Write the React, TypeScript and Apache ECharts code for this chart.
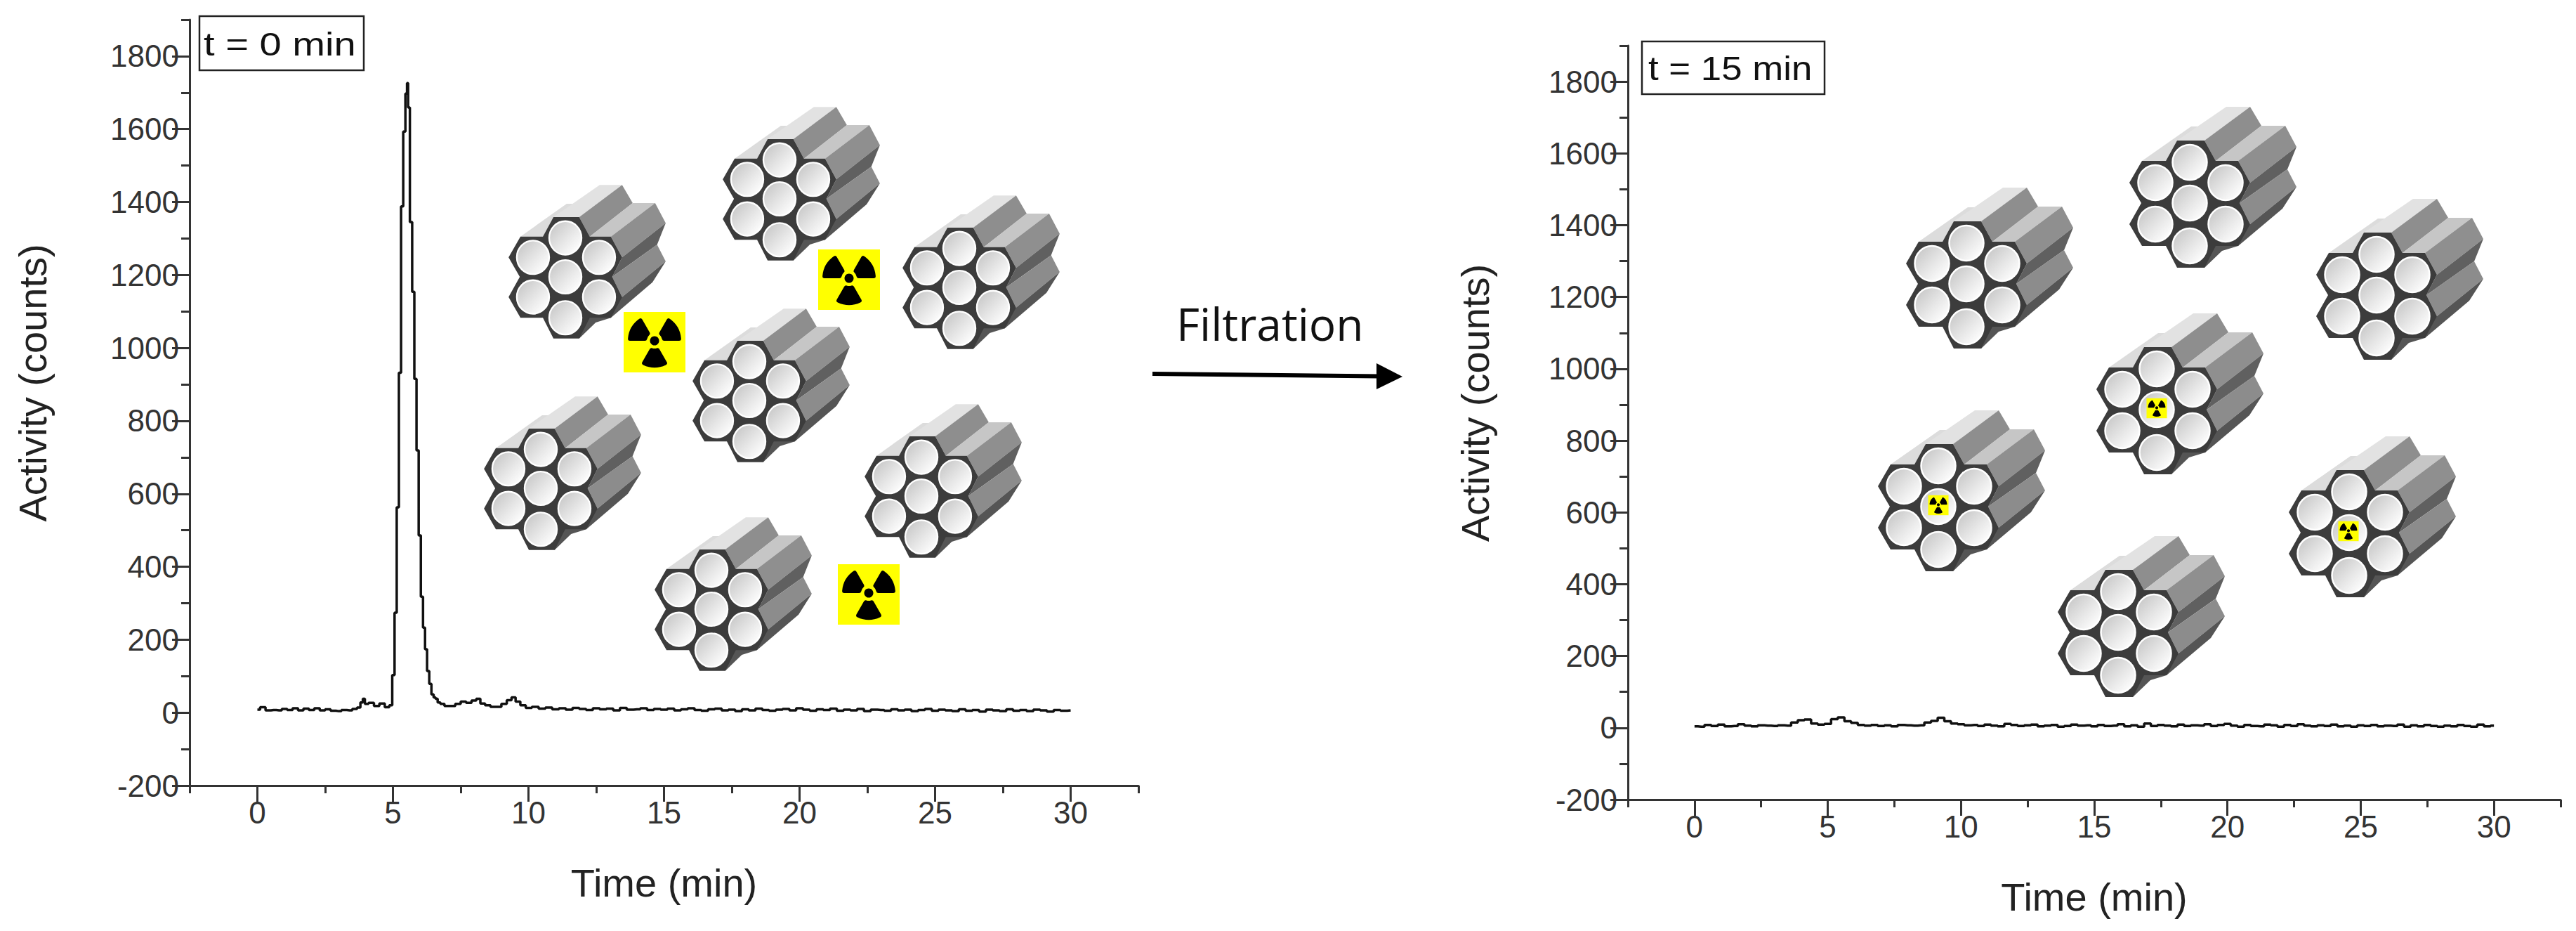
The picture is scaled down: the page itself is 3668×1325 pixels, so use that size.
import React, { useEffect, useRef } from 'react';
import * as echarts from 'echarts';

const xMajorTicks = [0, 5, 10, 15, 20, 25, 30];
const yMajorTicks = [-200, 0, 200, 400, 600, 800, 1000, 1200, 1400, 1600, 1800];

// t = 0 min: radio-HPLC trace before filtration
const timesLeft = [
  0, 0.2, 0.4, 0.6, 0.8, 1, 1.2, 1.4, 1.6, 1.8, 2, 2.2, 2.4, 2.6, 2.8, 3, 3.2, 3.4, 3.6, 3.75, 3.85, 3.93, 4, 4.2, 4.4,
  4.6, 4.8, 4.93,
  5.02, 5.1, 5.18, 5.26, 5.34, 5.42, 5.5, 5.54, 5.58, 5.67, 5.75, 5.83, 5.91, 5.99, 6.07, 6.15, 6.22, 6.3, 6.38, 6.46, 6.54,
  6.6, 6.7, 6.8, 7, 7.2, 7.4, 7.6, 7.8, 8, 8.15, 8.3, 8.5, 8.7, 8.9, 9.1, 9.3, 9.45, 9.6, 9.8,
  10, 10.25, 10.5, 10.75, 11, 11.25, 11.5, 11.75, 12, 12.25, 12.5, 12.75, 13, 13.25, 13.5, 13.75,
  14, 14.25, 14.5, 14.75, 15, 15.25, 15.5, 15.75, 16, 16.25, 16.5, 16.75, 17, 17.25, 17.5, 17.75,
  18, 18.25, 18.5, 18.75, 19, 19.25, 19.5, 19.75, 20, 20.25, 20.5, 20.75, 21, 21.25, 21.5, 21.75,
  22, 22.25, 22.5, 22.75, 23, 23.25, 23.5, 23.75, 24, 24.25, 24.5, 24.75, 25, 25.25, 25.5, 25.75,
  26, 26.25, 26.5, 26.75, 27, 27.25, 27.5, 27.75, 28, 28.25, 28.5, 28.75, 29, 29.25, 29.5, 29.75, 30,
];
const countsLeft = [
  8, 15, 6, 7, 6, 10, 7, 12, 6, 11, 7, 12, 6, 9, 5, 4, 7, 6, 10, 14, 28, 38, 24, 27, 18,
  25, 15, 20,
  103, 274, 563, 932, 1388, 1593, 1697, 1726, 1659, 1345, 1154, 915, 719, 486, 318, 233, 174, 114, 79, 50, 42,
  38, 28, 24, 18, 18, 24, 30, 27, 33, 38, 25, 20, 16, 16, 24, 34, 42, 30, 20,
  13, 16, 11, 14, 9, 12, 8, 13, 10, 7, 12, 9, 11, 6, 13, 8,
  9, 12, 7, 10, 8, 11, 6, 9, 12, 7, 5, 9, 11, 6, 8, 4,
  9, 6, 11, 7, 5, 8, 10, 6, 12, 8, 5, 9, 7, 11, 5, 8,
  6, 10, 4, 8, 7, 5, 9, 6, 8, 4, 7, 10, 5, 8, 6, 4,
  9, 5, 7, 3, 8, 6, 4, 9, 5, 7, 4, 8, 6, 3, 7, 5, 6,
];

// t = 15 min: same column after filtration
const timesRight = [
  0, 0.25, 0.5, 0.75, 1, 1.25, 1.5, 1.75, 2, 2.25, 2.5, 2.75, 3, 3.25, 3.5, 3.75,
  4, 4.25, 4.5, 4.75, 5, 5.25, 5.5, 5.75, 6, 6.25, 6.5, 6.75, 7, 7.25, 7.5, 7.75,
  8, 8.25, 8.5, 8.75, 9, 9.25, 9.5, 9.75, 10, 10.25, 10.5, 10.75, 11, 11.25, 11.5, 11.75,
  12, 12.25, 12.5, 12.75, 13, 13.25, 13.5, 13.75, 14, 14.25, 14.5, 14.75, 15, 15.25, 15.5, 15.75,
  16, 16.25, 16.5, 16.75, 17, 17.25, 17.5, 17.75, 18, 18.25, 18.5, 18.75, 19, 19.25, 19.5, 19.75,
  20, 20.25, 20.5, 20.75, 21, 21.25, 21.5, 21.75, 22, 22.25, 22.5, 22.75, 23, 23.25, 23.5, 23.75,
  24, 24.25, 24.5, 24.75, 25, 25.25, 25.5, 25.75, 26, 26.25, 26.5, 26.75, 27, 27.25, 27.5, 27.75,
  28, 28.25, 28.5, 28.75, 29, 29.25, 29.5, 29.75, 30,
];
const countsRight = [
  4, 3, 8, 5, 9, 4, 5, 10, 6, 4, 7, 6, 5, 7, 6, 15,
  21, 23, 12, 9, 11, 24, 29, 18, 14, 8, 6, 8, 5, 7, 4, 8,
  7, 6, 7, 15, 19, 28, 18, 12, 10, 7, 8, 5, 9, 6, 4, 11,
  8, 5, 7, 9, 4, 6, 8, 3, 5, 9, 6, 7, 4, 8, 5, 6,
  10, 4, 7, 3, 12, 5, 8, 6, 4, 9, 5, 7, 6, 10, 5, 8,
  11, 6, 3, 8, 5, 4, 9, 7, 3, 8, 5, 10, 6, 4, 7, 5,
  9, 4, 6, 3, 7, 5, 8, 4, 6, 5, 9, 3, 7, 4, 8, 5,
  3, 6, 4, 8, 5, 3, 9, 4, 6,
];

const FONT = '"Liberation Sans", Arial, sans-serif';
const AXIS_COLOR = '#333333';

// where the column bundles and the yellow labels sit on the page
const leftBundles = [
  [805, 394], [1110, 283], [1366, 409], [1067, 570], [770, 695], [1312, 706], [1013, 867],
];
const rightBundles = [
  [2800, 404], [3118, 289], [3384, 420], [3071, 583], [2760, 721], [3345, 758], [3016, 900],
];
const freeLabels = [
  [932, 487], [1209, 398], [1237, 846],
];
const boundLabels = [
  [3071, 581], [2760, 719], [3344, 756],
];

const backFaces: [number[][], string][] = [
  [[[-68, -60], [2, -109], [16, -109], [-18, -89], [-34, -60]], '#dcdcdc'],
  [[[-18, -89], [52, -137], [86, -137], [21, -89]], '#e2e2e2'],
  [[[21, -89], [86, -137], [102, -110], [37, -60]], '#8e8e8e'],
  [[[37, -60], [102, -110], [136, -110], [69, -60]], '#c6c6c6'],
  [[[69, -60], [136, -110], [152, -80], [86, -29]], '#8f8f8f'],
  [[[86, -29], [152, -80], [139, -48], [71, 0]], '#606060'],
  [[[71, 0], [139, -48], [152, -23], [86, 30]], '#8c8c8c'],
  [[[86, 30], [152, -23], [132, 8], [69, 61], [46, 68], [21, 92], [0, 60]], '#555555'],
];
const frontOutline = [
  [-18, -89], [21, -89], [37, -60], [69, -60], [86, -29], [71, 0], [86, 30], [69, 61], [37, 61], [21, 92],
  [-18, 92], [-34, 61], [-68, 61], [-86, 30], [-69, 0], [-86, -29], [-68, -60], [-34, -60],
];
const cellCentres = [
  [0, -58], [-49, -29], [51, -29], [0, 0], [-49, 30], [51, 30], [0, 61],
];

const cellFill = {
  type: 'linear', x: 0, y: 0, x2: 1, y2: 1,
  colorStops: [
    { offset: 0.1, color: '#c8c8c8' },
    { offset: 0.55, color: '#e8e8e8' },
    { offset: 0.9, color: '#ffffff' },
  ],
};

function bundle(x: number, y: number, sx: number, sy: number) {
  const children: any[] = backFaces.map(([points, fill]) => ({
    type: 'polygon', shape: { points }, style: { fill },
  }));
  children.push({ type: 'polygon', shape: { points: frontOutline }, style: { fill: '#3c3c3c' } });
  cellCentres.forEach(([cx, cy]) => {
    children.push({
      type: 'ellipse',
      shape: { cx, cy, rx: 24.5, ry: 25 },
      style: { fill: cellFill, stroke: '#ffffff', lineWidth: 2.5 },
    });
  });
  return { type: 'group', x, y, scaleX: sx, scaleY: sy, silent: true, children };
}

// yellow radiation label, drawn at full size and scaled
function radiationLabel(x: number, y: number, scale: number) {
  const blades = [180, 300, 60].map((start) => ({
    type: 'sector',
    shape: {
      cx: 0, cy: -2, r0: 11, r: 38, cornerRadius: 3,
      startAngle: (start * Math.PI) / 180,
      endAngle: ((start + 60) * Math.PI) / 180,
    },
    style: { fill: '#000000' },
  }));
  return {
    type: 'group', x, y, scaleX: scale, scaleY: scale, silent: true,
    children: [
      { type: 'rect', shape: { x: -44, y: -43, width: 88, height: 86 }, style: { fill: '#ffff00' } },
      ...blades,
      { type: 'circle', shape: { cx: 0, cy: -2, r: 6.5 }, style: { fill: '#000000' } },
    ],
  };
}

function timeLabel(text: string, box: number[], textX: number, textY: number, fontSize: number, sx: number) {
  return [
    {
      type: 'rect',
      shape: { x: box[0], y: box[1], width: box[2], height: box[3] },
      style: { fill: '#ffffff', stroke: '#222222', lineWidth: 2.5 },
    },
    {
      type: 'text', x: textX, y: textY, scaleX: sx,
      style: { text, fontFamily: FONT, fontSize, fill: '#111111', verticalAlign: 'middle' },
    },
  ];
}

function xAxes(gridIndex: number) {
  const common = {
    type: 'value', gridIndex, position: 'bottom', min: -2.5, max: 32.5, splitLine: { show: false },
  };
  return [
    {
      ...common, interval: 2.5,
      axisLine: { onZero: false, lineStyle: { color: AXIS_COLOR, width: 3 } },
      axisTick: { length: 11, lineStyle: { color: AXIS_COLOR, width: 3 } },
      axisLabel: { show: false },
    },
    {
      ...common, interval: 5,
      name: 'Time (min)', nameLocation: 'middle', nameGap: 110,
      nameTextStyle: { fontFamily: FONT, fontSize: 56, color: '#222222' },
      axisLine: { show: false, onZero: false },
      axisTick: { customValues: xMajorTicks, length: 23, lineStyle: { color: AXIS_COLOR, width: 3 } },
      axisLabel: { customValues: xMajorTicks, margin: 16, fontFamily: FONT, fontSize: 44, color: AXIS_COLOR },
    },
  ];
}

function yAxes(gridIndex: number, nameGap: number) {
  const common = {
    type: 'value', gridIndex, position: 'left', min: -200, max: 1900, splitLine: { show: false },
  };
  return [
    {
      ...common, interval: 100,
      axisLine: { onZero: false, lineStyle: { color: AXIS_COLOR, width: 3 } },
      axisTick: { length: 12, lineStyle: { color: AXIS_COLOR, width: 3 } },
      axisLabel: { show: false },
    },
    {
      ...common, interval: 200,
      name: 'Activity (counts)', nameLocation: 'middle', nameGap,
      nameTextStyle: { fontFamily: FONT, fontSize: 56, color: '#222222', padding: [0, 0, 0, 56] },
      axisLine: { show: false, onZero: false },
      axisTick: { customValues: yMajorTicks, length: 25, lineStyle: { color: AXIS_COLOR, width: 3 } },
      axisLabel: {
        customValues: yMajorTicks,
        margin: 15,
        fontFamily: FONT,
        fontSize: 44,
        color: AXIS_COLOR,
        formatter: (value: number) => String(value),
      },
    },
  ];
}

const trace = (times: number[], counts: number[], axisIndex: number) => ({
  type: 'line',
  xAxisIndex: axisIndex,
  yAxisIndex: axisIndex,
  step: 'middle',
  showSymbol: false,
  lineStyle: { color: '#111111', width: 3.5 },
  data: times.map((t, i) => [t, counts[i]]),
});

const App: React.FC = () => {
  const chartRef = useRef<HTMLDivElement>(null);

  useEffect(() => {
    if (!chartRef.current) return;
    const chart = echarts.init(chartRef.current, undefined, { renderer: 'svg' });

    const option: any = {
      animation: false,
      backgroundColor: '#ffffff',
      grid: [
        { left: 270, top: 28, width: 1351, height: 1090 },
        { left: 2318, top: 65, width: 1328, height: 1073 },
      ],
      xAxis: [...xAxes(0), ...xAxes(1)],
      yAxis: [...yAxes(0, 196), ...yAxes(1, 190)],
      series: [trace(timesLeft, countsLeft, 0), trace(timesRight, countsRight, 2)],
      graphic: {
        elements: [
          ...timeLabel('t = 0 min', [284, 23, 234, 77], 290, 63, 46, 1.22),
          ...timeLabel('t = 15 min', [2338, 59, 260, 75], 2347, 97, 48, 1.1),
          ...leftBundles.map(([x, y]) => bundle(x, y, 0.94, 0.955)),
          ...rightBundles.map(([x, y]) => bundle(x, y, 1, 1)),
          ...freeLabels.map(([x, y]) => radiationLabel(x, y, 1)),
          ...boundLabels.map(([x, y]) => radiationLabel(x, y, 0.33)),
          {
            type: 'text', x: 1675, y: 460,
            style: {
              text: 'Filtration', fontFamily: '"Open Sans", sans-serif', fontSize: 64,
              fill: '#111111', verticalAlign: 'middle',
            },
          },
          {
            type: 'line',
            shape: { x1: 1641, y1: 532, x2: 1965, y2: 535.5 },
            style: { stroke: '#000000', lineWidth: 6 },
          },
          {
            type: 'polygon',
            shape: { points: [[1960, 517], [1997, 536], [1960, 554]] },
            style: { fill: '#000000' },
          },
        ],
      },
    };

    chart.setOption(option);
    return () => chart.dispose();
  }, []);

  return <div ref={chartRef} style={{ position: 'absolute', left: 0, top: 0, width: 3668, height: 1325 }} />;
};

export default App;
